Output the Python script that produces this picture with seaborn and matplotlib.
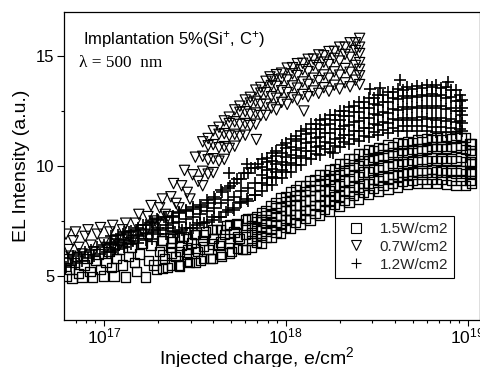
import numpy as np
import pandas as pd
import matplotlib
matplotlib.use("Agg")
import matplotlib.pyplot as plt
import seaborn as sns
from matplotlib.lines import Line2D
from matplotlib.ticker import LogLocator, MultipleLocator, NullFormatter

# ---------------- data (injected charge in units of 1e17 e/cm^2) ----------------
series_labels = ["1.5W/cm2", "0.7W/cm2", "1.2W/cm2"]

# --- 1.5 W/cm2 (squares): sparse early readings
sq_charge = [
    0.62, 0.63, 0.65, 0.67, 0.69, 0.71, 0.73, 0.76, 0.78, 0.81, 0.84, 0.87, 0.90, 0.93, 0.96, 1.0,
    1.03, 1.07, 1.10, 1.14, 1.18, 1.22, 1.27, 1.32, 1.37, 1.42, 1.47, 1.52, 1.58, 1.64, 1.70, 1.76,
    1.82, 1.88, 1.95, 2.02, 2.09, 2.16, 2.24, 2.32, 2.40, 2.48, 2.57, 2.66, 2.75, 2.85, 2.95, 3.05, 3.16, 3.27, 3.39,
    3.5, 3.62, 3.75, 3.88, 4.0, 4.15, 4.3, 4.45, 4.6, 4.75, 4.9, 5.05, 5.2, 5.4, 5.6, 5.8, 6.0, 6.2,
]
sq_intensity = [
    5.0, 5.8, 5.3, 4.9, 5.6, 5.9, 5.1, 4.95, 5.5, 5.8, 5.2, 4.95, 5.7, 6.0, 5.3, 5.0,
    5.6, 6.1, 5.4, 5.0, 5.8, 6.2, 5.5, 4.95, 5.9, 6.3, 5.6, 5.2, 6.0, 6.5, 4.95, 5.7,
    6.4, 5.5, 5.3, 6.1, 6.6, 5.8, 5.4, 6.3, 6.7, 5.9, 5.5, 6.4, 6.8, 6.0, 5.6, 6.5, 6.9, 6.1, 5.7,
    6.6, 7.0, 6.2, 5.8, 6.7, 7.1, 6.4, 5.9, 6.9, 7.3, 6.5, 6.1, 7.0, 7.4, 6.7, 6.2, 7.2, 7.6,
]
# dense readings: one charge value, several intensity readings
sq_charge_dense = [
    2.1, 2.35, 2.6, 2.9, 3.2, 3.55, 3.95, 4.4, 4.9, 5.45, 6.0,
    6.5, 6.9, 7.35, 7.8, 8.3, 8.85, 9.4, 10.0, 10.6, 11.3, 12.0, 12.8, 13.6, 14.5, 15.4, 16.4,
    17.4, 18.5, 19.7, 21.0, 22.3, 23.7, 25.2, 26.8, 28.5, 30.3, 32.3, 34.3, 36.5, 38.8, 41.3,
    43.9, 46.7, 49.7, 52.8, 56.2, 59.7, 63.5, 67.5, 71.8, 76.4, 81.2, 86.4, 91.9, 97.7, 103.0, 105.0,
]
sq_intensity_dense = [
    [5.35, 5.95, 6.6], [5.5, 6.05, 6.55], [5.45, 6.1, 6.75], [5.65, 6.2, 6.7], [5.6, 6.25, 6.9],
    [5.8, 6.35, 6.9], [5.8, 6.45, 7.1], [6.0, 6.55, 7.1], [6.05, 6.7, 7.35], [6.25, 6.8, 7.35],
    [6.2, 6.9, 7.55],
    [6.3, 6.63, 6.95, 7.28, 7.6], [6.54, 6.8, 7.14, 7.48, 7.68], [6.5, 6.85, 7.2, 7.55, 7.9],
    [6.75, 7.04, 7.4, 7.76, 7.98], [6.75, 7.11, 7.48, 7.84, 8.2], [7.0, 7.32, 7.7, 8.09, 8.32],
    [6.95, 7.35, 7.75, 8.15, 8.55], [7.22, 7.55, 7.96, 8.37, 8.62], [7.15, 7.58, 8.0, 8.43, 8.85],
    [7.43, 7.78, 8.21, 8.65, 8.91], [7.35, 7.79, 8.23, 8.66, 9.1], [7.63, 7.98, 8.41, 8.85, 9.11],
    [7.55, 8.0, 8.45, 8.9, 9.35], [7.83, 8.19, 8.64, 9.09, 9.36], [7.75, 8.21, 8.68, 9.14, 9.6],
    [8.04, 8.41, 8.87, 9.33, 9.61], [7.95, 8.43, 8.9, 9.38, 9.85], [8.24, 8.62, 9.1, 9.57, 9.86],
    [8.15, 8.64, 9.13, 9.61, 10.1], [8.45, 8.84, 9.32, 9.81, 10.1], [8.35, 8.85, 9.35, 9.85, 10.35],
    [8.65, 9.05, 9.55, 10.05, 10.35], [8.5, 9.01, 9.53, 10.04, 10.55], [8.81, 9.22, 9.73, 10.24, 10.55],
    [8.7, 9.21, 9.73, 10.24, 10.75], [8.96, 9.37, 9.88, 10.39, 10.7], [8.85, 9.35, 9.85, 10.35, 10.85],
    [9.1, 9.5, 10.0, 10.5, 10.8], [8.95, 9.45, 9.95, 10.45, 10.95], [9.2, 9.6, 10.1, 10.6, 10.9],
    [9.05, 9.55, 10.05, 10.55, 11.05], [9.3, 9.7, 10.2, 10.7, 11.0], [9.15, 9.64, 10.13, 10.61, 11.1],
    [9.35, 9.75, 10.25, 10.75, 11.05], [9.2, 9.7, 10.2, 10.7, 11.2], [9.4, 9.8, 10.3, 10.8, 11.1],
    [9.2, 9.71, 10.23, 10.74, 11.25], [9.41, 9.83, 10.36, 10.88, 11.2], [9.2, 9.73, 10.25, 10.78, 11.3],
    [9.37, 9.8, 10.33, 10.87, 11.19], [9.15, 9.7, 10.25, 10.8, 11.35], [9.33, 9.78, 10.34, 10.9, 11.24],
    [9.1, 9.68, 10.25, 10.83, 11.4], [9.33, 9.79, 10.37, 10.94, 11.29], [9.1, 9.65, 10.2, 10.75, 11.3],
    [9.35, 9.74, 10.22, 10.71, 11.0], [9.2, 9.65, 10.1, 10.55, 11.0],
]

# --- 0.7 W/cm2 (down triangles)
tri_charge = [
    0.62, 0.64, 0.66, 0.68, 0.70, 0.73, 0.76, 0.79, 0.82, 0.85, 0.88, 0.92, 0.96, 1.0,
    1.04, 1.08, 1.12, 1.17, 1.22, 1.27, 1.32, 1.38, 1.44, 1.50, 1.56, 1.62, 1.68, 1.75, 1.82, 1.89,
    1.96, 2.03, 2.10, 2.18, 2.26, 2.34, 2.42, 2.50, 2.59, 2.68, 2.78, 2.88, 2.98, 3.08, 3.19, 3.30,
    8.2, 12.6, 6.9,
]
tri_intensity = [
    6.9, 6.2, 5.9, 6.6, 7.0, 6.3, 6.0, 6.8, 7.1, 6.4, 6.1, 6.9, 7.2, 6.5,
    6.3, 7.0, 7.3, 6.6, 6.4, 7.1, 7.4, 6.8, 6.6, 7.4, 7.8, 7.1, 6.9, 7.7, 8.2, 7.5,
    7.4, 8.1, 8.5, 7.8, 7.7, 8.6, 9.2, 8.3, 8.1, 9.1, 9.8, 8.8, 8.5, 9.6, 10.4, 9.3,
    14.05, 12.5, 11.2,
]
tri_charge_dense = [
    3.5, 3.75, 4.0, 4.3, 4.6, 4.9, 5.25, 5.6, 6.0, 6.4, 6.85, 7.3, 7.8, 8.35, 8.9, 9.5,
    10.2, 10.9, 11.6, 12.4, 13.3, 14.2, 15.2, 16.2, 17.3, 18.5, 19.8, 21.2, 22.6, 24.2, 25.5,
]
tri_intensity_dense = [
    [9.1, 9.76, 10.44, 11.1], [9.63, 10.28, 10.92, 11.25], [9.7, 10.33, 10.97, 11.6],
    [10.22, 10.83, 11.44, 11.76], [10.3, 10.88, 11.47, 12.05], [10.8, 11.37, 11.93, 12.22],
    [10.9, 11.44, 12.01, 12.55], [11.35, 11.89, 12.44, 12.72], [11.4, 11.93, 12.47, 13.0],
    [11.84, 12.35, 12.86, 13.12], [11.9, 12.41, 12.94, 13.45], [12.29, 12.8, 13.31, 13.57],
    [12.3, 12.81, 13.34, 13.85], [12.64, 13.15, 13.66, 13.92], [12.55, 13.08, 13.62, 14.15],
    [12.89, 13.42, 13.95, 14.22], [12.8, 13.34, 13.91, 14.45], [13.1, 13.64, 14.19, 14.47],
    [13.0, 13.54, 14.11, 14.65], [13.25, 13.82, 14.38, 14.67], [13.15, 13.71, 14.29, 14.85],
    [13.41, 13.99, 14.57, 14.86], [13.3, 13.88, 14.47, 15.05], [13.56, 14.14, 14.72, 15.01],
    [13.4, 13.99, 14.61, 15.2], [13.67, 14.28, 14.89, 15.21], [13.5, 14.13, 14.77, 15.4],
    [13.78, 14.43, 15.07, 15.4], [13.6, 14.26, 14.94, 15.6], [13.9, 14.57, 15.25, 15.6],
    [13.7, 14.1, 14.39, 14.7, 15.11, 15.4, 15.8],
]

# --- 1.2 W/cm2 (plus)
plus_charge = [
    0.62, 0.64, 0.66, 0.68, 0.70, 0.73, 0.76, 0.79, 0.82, 0.85, 0.88, 0.92, 0.96, 1.0,
    1.04, 1.08, 1.12, 1.17, 1.22, 1.27, 1.32, 1.38, 1.44, 1.50, 1.57, 1.64, 1.71, 1.79, 1.87, 1.96, 2.05, 2.15, 2.25,
    2.36, 2.47, 2.59, 2.71, 2.84, 2.97, 3.11, 3.26, 3.41, 3.57, 3.74, 3.92, 4.1, 4.29, 4.49, 4.7, 4.92, 5.15,
    5.39, 5.64, 5.9, 6.17, 6.45, 6.75, 7.06,
    42.5, 29.0, 78.0, 33.0, 18.1, 4.9, 6.1,
]
plus_intensity = [
    5.4, 5.8, 5.5, 5.9, 5.6, 6.0, 5.7, 6.1, 5.8, 6.2, 5.9, 6.3, 6.0, 6.4,
    6.1, 6.5, 6.2, 6.7, 6.4, 6.9, 6.5, 7.0, 6.6, 7.1, 6.8, 7.3, 6.9, 7.4, 7.0, 7.6, 7.1, 7.7, 7.2,
    7.7, 7.0, 7.85, 7.1, 7.95, 7.2, 8.05, 7.3, 8.15, 7.4, 8.3, 7.55, 8.5, 7.7, 8.8, 7.9, 9.1, 8.1,
    9.4, 8.3, 9.7, 8.5, 9.9, 8.7, 10.1,
    13.9, 13.5, 13.8, 13.55, 10.6, 9.7, 10.1,
]
plus_charge_dense = [
    1.1, 1.2, 1.3, 1.42, 1.55, 1.7, 1.85, 2.0, 2.2, 2.4, 2.6, 2.85, 3.1, 3.4, 3.7, 4.05,
    4.4, 4.8, 5.2, 5.7, 6.2, 6.8,
    7.4, 7.9, 8.4, 8.9, 9.5, 10.1, 10.7, 11.4, 12.1, 12.9, 13.7, 14.6, 15.5, 16.5, 17.5,
    18.6, 19.8, 21.0, 22.4, 23.8, 25.3, 26.9, 28.6, 30.4, 32.3, 34.4, 36.5, 38.8, 41.3,
    43.9, 46.7, 49.6, 52.8, 56.1, 59.6, 63.4, 67.4, 71.6, 76.2, 81.0, 86.1, 90.5, 93.0,
]
plus_intensity_dense = [
    [6.1, 6.45, 6.8], [6.25, 6.55, 6.85], [6.3, 6.65, 7.0], [6.45, 6.75, 7.05], [6.5, 6.85, 7.2],
    [6.65, 6.95, 7.3], [6.7, 7.1, 7.45], [6.9, 7.2, 7.55], [6.9, 7.3, 7.7], [7.05, 7.4, 7.75],
    [7.0, 7.45, 7.9], [7.2, 7.6, 8.0], [7.2, 7.7, 8.15], [7.4, 7.8, 8.25], [7.45, 7.95, 8.45],
    [7.7, 8.1, 8.6], [7.7, 8.3, 8.9], [8.0, 8.45, 9.0], [8.0, 8.6, 9.25], [8.35, 8.85, 9.4],
    [8.4, 9.0, 9.7], [8.7, 9.25, 9.9],
    [8.85, 9.21, 9.58, 9.94, 10.3], [9.15, 9.44, 9.8, 10.16, 10.38], [9.15, 9.51, 9.88, 10.24, 10.6],
    [9.45, 9.74, 10.1, 10.46, 10.68], [9.45, 9.83, 10.2, 10.58, 10.95], [9.75, 10.05, 10.43, 10.8, 11.03],
    [9.75, 10.13, 10.5, 10.88, 11.25], [10.06, 10.37, 10.75, 11.14, 11.37], [10.05, 10.44, 10.83, 11.21, 11.6],
    [10.36, 10.67, 11.05, 11.44, 11.67], [10.3, 10.7, 11.1, 11.5, 11.9], [10.56, 10.88, 11.28, 11.68, 11.92],
    [10.5, 10.9, 11.3, 11.7, 12.1], [10.76, 11.08, 11.48, 11.88, 12.12], [10.65, 11.06, 11.48, 11.89, 12.3],
    [10.92, 11.25, 11.66, 12.07, 12.32], [10.85, 11.26, 11.68, 12.09, 12.5], [11.07, 11.41, 11.84, 12.26, 12.52],
    [11.0, 11.43, 11.85, 12.28, 12.7], [11.23, 11.58, 12.01, 12.45, 12.71], [11.15, 11.59, 12.03, 12.46, 12.9],
    [11.38, 11.74, 12.19, 12.64, 12.91], [11.3, 11.75, 12.2, 12.65, 13.1], [11.54, 11.91, 12.37, 12.83, 13.11],
    [11.4, 11.86, 12.33, 12.79, 13.25], [11.64, 12.01, 12.47, 12.93, 13.21], [11.5, 11.96, 12.43, 12.89, 13.35],
    [11.74, 12.12, 12.6, 13.07, 13.36], [11.6, 12.08, 12.55, 13.03, 13.5], [11.8, 12.19, 12.67, 13.16, 13.45],
    [11.6, 12.1, 12.6, 13.1, 13.6], [11.8, 12.2, 12.7, 13.2, 13.5], [11.6, 12.11, 12.63, 13.14, 13.65],
    [11.81, 12.22, 12.73, 13.24, 13.55], [11.6, 12.13, 12.65, 13.18, 13.7], [11.77, 12.2, 12.73, 13.27, 13.59],
    [11.55, 12.09, 12.63, 13.16, 13.7], [11.76, 12.18, 12.71, 13.23, 13.55], [11.55, 12.06, 12.58, 13.09, 13.6],
    [11.71, 12.12, 12.63, 13.14, 13.45], [11.5, 11.99, 12.48, 12.96, 13.45], [11.68, 12.04, 12.49, 12.94, 13.21],
    [11.6, 11.95, 12.3, 12.65, 13.0],
]

charge_unit = 1e17
y_ticks = [5, 10, 15]


def to_frame(xs, ys, xs_dense, ys_dense):
    counts = [len(r) for r in ys_dense]
    charge = np.concatenate([np.asarray(xs, float), np.repeat(xs_dense, counts)])
    inten = np.concatenate([np.asarray(ys, float), np.concatenate(ys_dense)])
    return pd.DataFrame({"charge": charge * charge_unit, "intensity": inten})


frames = [
    to_frame(sq_charge, sq_intensity, sq_charge_dense, sq_intensity_dense),
    to_frame(tri_charge, tri_intensity, tri_charge_dense, tri_intensity_dense),
    to_frame(plus_charge, plus_intensity, plus_charge_dense, plus_intensity_dense),
]

# ---------------- style ----------------
sns.set_theme(style="ticks")
plt.rcParams["font.family"] = ["Liberation Sans", "DejaVu Sans"]
plt.rcParams["mathtext.fontset"] = "custom"
plt.rcParams["mathtext.rm"] = "Liberation Sans"
plt.rcParams["mathtext.it"] = "Liberation Sans:italic"
plt.rcParams["mathtext.bf"] = "Liberation Sans:bold"
plt.rcParams["mathtext.sf"] = "Liberation Sans"
plt.rcParams["axes.edgecolor"] = "black"
plt.rcParams["axes.linewidth"] = 0.9

fig = plt.figure(figsize=(4.81, 3.67), dpi=100)
fig.patch.set_facecolor("white")
ax = fig.add_axes([64 / 481, 47 / 367, 416 / 481, 308 / 367])

markers = ["s", "v", "+"]
sizes = [44, 55, 65]
widths = [0.95, 0.85, 1.2]
for df, mk, size, lw in zip(frames, markers, sizes, widths):
    if mk == "+":
        sns.scatterplot(data=df, x="charge", y="intensity", marker="+", s=size,
                        color="black", linewidth=lw, ax=ax, legend=False)
    else:
        sns.scatterplot(data=df, x="charge", y="intensity", marker=mk, s=size,
                        color="black", edgecolor="black", linewidth=lw, ax=ax, legend=False)
        ax.collections[-1].set_facecolor("none")

ax.set_xscale("log")
ax.set_xlim(6.05e16, 1.17e19)
ax.set_ylim(3, 17)
ax.set_yticks(y_ticks)
ax.yaxis.set_minor_locator(MultipleLocator(2.5))
ax.xaxis.set_major_locator(LogLocator(base=10))
ax.xaxis.set_minor_locator(LogLocator(base=10, subs=np.arange(2, 10)))
ax.xaxis.set_minor_formatter(NullFormatter())

ax.tick_params(axis="y", which="major", direction="out", length=5, width=0.8,
               labelsize=12, pad=2, color="black", labelcolor="black")
ax.tick_params(axis="y", which="minor", direction="out", length=2.5, width=0.8, color="black")
ax.tick_params(axis="x", which="major", direction="out", length=4, width=0.8,
               labelsize=12.5, pad=1, color="black", labelcolor="black")
ax.tick_params(axis="x", which="minor", direction="out", length=2.2, width=0.8, color="black")
for sp in ax.spines.values():
    sp.set_visible(True)
    sp.set_color("black")

ax.set_xlabel("Injected charge, e/cm$^2$", fontsize=14, color="black")
ax.xaxis.set_label_coords(0.464, -0.083)
ax.set_ylabel("EL Intensity (a.u.)", fontsize=14, labelpad=4, color="black")

ax.text(0.046, 0.912, "Implantation 5%(Si$^{+}$, C$^{+}$)", transform=ax.transAxes,
        fontsize=12, va="center", ha="left", color="black")
ax.text(0.036, 0.834, "λ = 500  nm", transform=ax.transAxes, family="Liberation Serif",
        fontsize=12.4, va="center", ha="left", color="black")

handles = [
    Line2D([], [], marker="s", linestyle="none", markerfacecolor="none",
           markeredgecolor="black", markersize=6.5, markeredgewidth=0.8),
    Line2D([], [], marker="v", linestyle="none", markerfacecolor="none",
           markeredgecolor="black", markersize=7.5, markeredgewidth=0.8),
    Line2D([], [], marker="+", linestyle="none", color="black",
           markersize=7.5, markeredgewidth=0.8),
]
leg = ax.legend(handles, series_labels, loc="upper right", bbox_to_anchor=(0.9375, 0.338),
                fontsize=11, frameon=True, fancybox=False, framealpha=1, edgecolor="black",
                handlelength=2.0, handletextpad=0.5, labelspacing=0.25, borderpad=0.4,
                borderaxespad=0)
leg.get_frame().set_linewidth(0.8)

fig.savefig("out.png", dpi=100, facecolor="white")
